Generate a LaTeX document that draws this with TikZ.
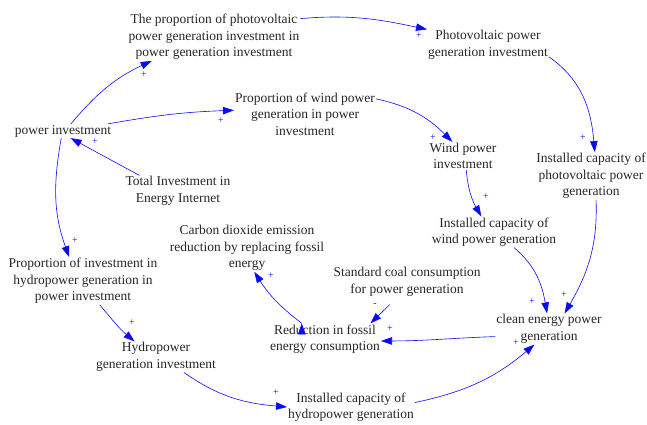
\documentclass[tikz,border=0pt]{standalone}
\usepackage{fontspec}
\setmainfont{Liberation Serif}
\usetikzlibrary{arrows.meta}

\definecolor{linkblue}{RGB}{10,10,250}
\tikzset{
    var/.style={align=center, inner sep=1pt, text=black!85, font=\fontsize{13.5}{16.5}\selectfont},
    link/.style={draw=linkblue, fill=linkblue, line width=0.6pt, -{Triangle[length=11pt,width=7.5pt,fill=linkblue]}},
    pol/.style={text=linkblue, font=\fontsize{10}{10}\selectfont, inner sep=0pt},
}

\begin{document}
\begin{tikzpicture}[x=1pt,y=1pt]
    \useasboundingbox (0,0) rectangle (647,-424);
    % variables
    \node[var] (pvshare)    at (214,-37)  {The proportion of photovoltaic\\power generation investment in\\power generation investment};
    \node[var] (pvinv)      at (488,-45)  {Photovoltaic power\\generation investment};
    \node[var] (windshare)  at (305,-114) {Proportion of wind power\\generation in power\\investment};
    \node[var] (powinv)     at (63,-131)  {power investment};
    \node[var] (windinv)    at (463,-156) {Wind power\\investment};
    \node[var] (pvcap)      at (591,-176) {Installed capacity of\\photovoltaic power\\generation};
    \node[var] (total)      at (178,-191) {Total Investment in\\Energy Internet};
    \node[var] (windcap)    at (494,-232) {Installed capacity of\\wind power generation};
    \node[var] (co2)        at (247,-248) {Carbon dioxide emission\\reduction by replacing fossil\\energy};
    \node[var] (hydroshare) at (83,-281)  {Proportion of investment in\\hydropower generation in\\power investment};
    \node[var] (coal)       at (407,-282) {Standard coal consumption\\for power generation};
    \node[var] (reduce)     at (325,-339) {Reduction in fossil\\energy consumption};
    \node[var] (clean)      at (549,-329) {clean energy power\\generation};
    \node[var] (hydroinv)   at (156,-357) {Hydropower\\generation investment};
    \node[var] (hydrocap)   at (351,-407) {Installed capacity of\\hydropower generation};

    % causal links
    \path[link]
        (powinv.42)      edge[out=50,in=205]  (pvshare.201)
        (powinv.9)       edge[out=10,in=182]  (windshare.177)
        (pvshare.12)     edge[out=5,in=168]   (pvinv.north west)
        (pvinv.-11)      edge[out=-35,in=95]  (pvcap.81)
        (windshare.12)   edge[out=-12,in=135] (windinv.127)
        (windinv.-77)    edge[out=-85,in=120] (windcap.129)
        (total.158)      edge                 (powinv.-43)
        (powinv.-104)    edge[out=-100,in=110] (hydroshare.120)
        (hydroshare.-55) edge[out=-50,in=140] (hydroinv.144)
        (hydroinv.-29)   edge[out=-35,in=175] (hydrocap.180)
        (hydrocap.4)     edge[out=12,in=220]  (clean.227)
        (windcap.-38)    edge[out=-40,in=100] (clean.97)
        (pvcap.-78)      edge[out=-88,in=60]  (clean.45)
        (clean.188)      edge[out=182,in=0]   (reduce.-2)
        (coal.237)       edge[shorten <=10pt] (reduce.19)
        (reduce.146)     edge[bend left=10]   (co2.-73);

    % polarities
    \node[pol] (s1)  at (144,-75)  {+};
    \node[pol] (s2)  at (221,-121) {+};
    \node[pol] (s3)  at (419,-36)  {+};
    \node[pol] (s4)  at (583,-138) {+};
    \node[pol] (s5)  at (433,-138) {+};
    \node[pol] (s6)  at (486,-197) {+};
    \node[pol] (s7)  at (95,-142)  {+};
    \node[pol] (s8)  at (75,-241)  {+};
    \node[pol] (s9)  at (132,-323) {+};
    \node[pol] (s10) at (276,-393) {+};
    \node[pol] (s11) at (516,-343) {+};
    \node[pol] (s12) at (532,-302) {+};
    \node[pol] (s13) at (564,-295) {+};
    \node[pol] (s14) at (390,-329) {+};
    \node[pol] (s15) at (375,-305) {-};
    \node[pol] (s16) at (271,-276) {+};
\end{tikzpicture}
\end{document}
